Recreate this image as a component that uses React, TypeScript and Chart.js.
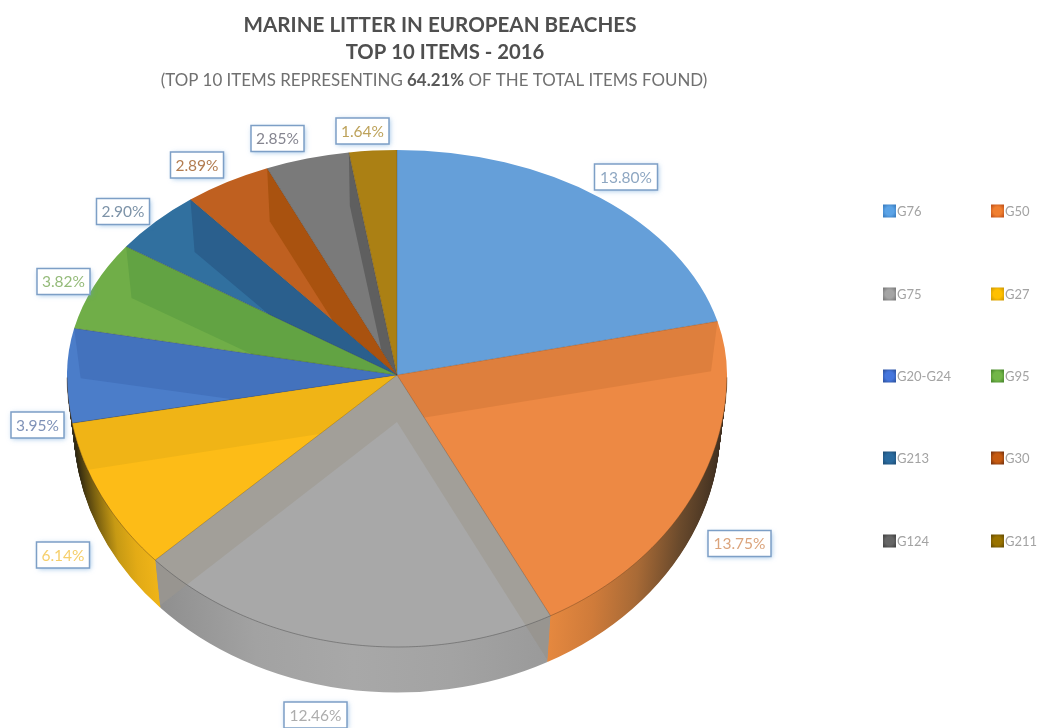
import React, { useEffect, useRef } from "react";
import { Chart, registerables } from "chart.js";

Chart.register(...registerables);

// ---- data ----
const categories = ["G76", "G50", "G75", "G27", "G20-G24", "G95", "G213", "G30", "G124", "G211"];
const percentages = [13.8, 13.75, 12.46, 6.14, 3.95, 3.82, 2.9, 2.89, 2.85, 1.64];
const titleLines = ["MARINE LITTER IN EUROPEAN BEACHES", "TOP 10 ITEMS - 2016"];
const subtitleParts = ["(TOP 10 ITEMS REPRESENTING ", "64.21%", " OF THE TOTAL ITEMS FOUND)"];

// ---- styles ----
const faceColors = ["#659fd9", "#ed8944", "#a8a8a8", "#fdbc17", "#4b7dc9", "#70ae48", "#31709f", "#bf6020", "#7a7a7a", "#ab8014"];
const bandColors = ["#5f9ad4", "#de7f3d", "#a29f99", "#f0b416", "#4372bd", "#62a343", "#2a5f8d", "#a9520f", "#5f5f5f", "#8f6d10"];
const wallStops: string[][] = [
  ["#4d86bd", "#4d86bd"],
  ["#e5883f", "#cf7b3a", "#a86a36", "#6a4a2c", "#3d2e20"],
  ["#8f8f8f", "#a2a2a2", "#a8a8a8", "#a3a3a3", "#9a9a9a"],
  ["#2e2610", "#7c6210", "#c79a14", "#e3ab16", "#efb418"],
  ["#2c2a20", "#3a3520"],
  ["#4a7a30", "#4a7a30"],
  ["#1f4a70", "#1f4a70"],
  ["#7a3c10", "#7a3c10"],
  ["#505050", "#505050"],
  ["#6b500a", "#6b500a"],
];
const labelColors = ["#8ea7c2", "#dba47c", "#adadad", "#f6cf6a", "#7f92b8", "#95bb7a", "#7d93a8", "#b27c50", "#858590", "#bda25a"];
const legendOuter = ["#3c7fc2", "#c4551b", "#7d7d7d", "#d39d06", "#2f55a3", "#4b8a2e", "#1f5079", "#7e360f", "#454545", "#6a5003"];
const legendInner = ["#5ba3e6", "#f07f30", "#a5a5a5", "#ffc000", "#4576dd", "#72b648", "#2a6a9e", "#c55a11", "#666666", "#997300"];
const labelCenters = [
  [626, 177], [739.5, 543.5], [315.5, 715], [63, 555], [37.5, 425], [63.5, 281.5], [123, 211.5], [197, 165], [277.5, 138.5], [362.5, 131],
];
const legendCols = [883, 991];
const legendRows = [211, 294, 376, 458, 541];

// ---- perspective of the pie ----
const W = 1043;
const H = 728;
const APEX_X = 397;
const APEX_Y = 375;
const RX = 330;
const RY_UP = 225;
const RY_DOWN = 272;
const DROP = 51;
const SHRINK = 0.98;
const PERSPECTIVE = 0.0946;
const PERSP_A = 329;
const PERSP_B = 246.3;
const FONT = "Lato, 'Open Sans', sans-serif";

// Where a slice edge lands under the tilted camera: the ray keeps its place on the rim
// of the perspective disc, whose centre does not sit at the apex of the slices.
const projectAngle = (theta: number) => {
  const u = Math.cos(theta);
  const v = Math.sin(theta);
  const den = 1 - PERSPECTIVE * v;
  const x = (PERSP_A * u) / den;
  const y = (PERSP_B * v) / den;
  let t = Math.atan2(y / (y < 0 ? RY_UP : RY_DOWN), x / RX);
  while (t < theta - Math.PI) t += 2 * Math.PI;
  while (t > theta + Math.PI) t -= 2 * Math.PI;
  return t;
};

const rimPoint = (theta: number, dy = 0, s = 1) => {
  const sin = Math.sin(theta);
  return {
    x: APEX_X + RX * s * Math.cos(theta),
    y: APEX_Y + dy + (sin < 0 ? RY_UP : RY_DOWN) * s * sin,
  };
};

const drawHalf = (ctx: any, arc: any, upper: boolean, dy: number, s: number, fill: any) => {
  ctx.save();
  ctx.beginPath();
  if (upper) ctx.rect(0, 0, W, APEX_Y + dy);
  else ctx.rect(0, APEX_Y + dy, W, H);
  ctx.clip();
  ctx.translate(APEX_X, APEX_Y + dy);
  ctx.scale((RX * s) / arc.outerRadius, ((upper ? RY_UP : RY_DOWN) * s) / arc.outerRadius);
  ctx.translate(-arc.x, -arc.y);
  const saved = arc.options;
  arc.options = { ...saved, backgroundColor: fill, borderWidth: 0 };
  arc.draw(ctx);
  arc.options = saved;
  ctx.restore();
};

const sample = (a: number, b: number) => {
  const out: number[] = [];
  const n = Math.max(2, Math.ceil(Math.abs(b - a) / 0.01));
  for (let i = 0; i <= n; i++) out.push(a + ((b - a) * i) / n);
  return out;
};

const sectorPath = (ctx: any, arc: any) => {
  ctx.beginPath();
  ctx.moveTo(APEX_X, APEX_Y);
  sample(arc.startAngle, arc.endAngle).forEach((t) => {
    const p = rimPoint(t);
    ctx.lineTo(p.x, p.y);
  });
  ctx.closePath();
};

const lowerThetas = (arc: any) => sample(arc.startAngle, arc.endAngle).filter((t) => Math.sin(t) > 0);

const wallPath = (ctx: any, thetas: number[]) => {
  ctx.beginPath();
  thetas.forEach((t, i) => {
    const p = rimPoint(t);
    if (i === 0) ctx.moveTo(p.x, p.y);
    else ctx.lineTo(p.x, p.y);
  });
  [...thetas].reverse().forEach((t) => {
    const p = rimPoint(t, DROP, SHRINK);
    ctx.lineTo(p.x, p.y);
  });
  ctx.closePath();
};

const edgeBand = (ctx: any, theta: number) => {
  const a = rimPoint(theta);
  const b = rimPoint(theta, DROP - 2, SHRINK);
  ctx.beginPath();
  ctx.moveTo(APEX_X, APEX_Y);
  ctx.lineTo(a.x, a.y);
  ctx.lineTo(b.x, b.y);
  ctx.lineTo(APEX_X, APEX_Y + DROP - 4);
  ctx.closePath();
};

const pie3dPlugin = {
  id: "pie3d",
  beforeDatasetDraw(chart: any) {
    const ctx = chart.ctx;
    const arcs = chart.getDatasetMeta(0).data;

    // put the library's arc angles through the perspective for this draw
    const original = arcs.map((a: any) => ({ s: a.startAngle, e: a.endAngle, c: a.circumference }));
    arcs.forEach((a: any) => {
      a.startAngle = projectAngle(a.startAngle);
      a.endAngle = projectAngle(a.endAngle);
      a.circumference = a.endAngle - a.startAngle;
    });

    // walls: the library's arcs stacked downwards, deepest layer first
    const wallFills = arcs.map((arc: any, i: number) => {
      const thetas = lowerThetas(arc);
      if (!thetas.length) return null;
      const xs = thetas.map((t) => rimPoint(t).x);
      const toLocal = (x: number) => arc.x + ((x - APEX_X) * arc.outerRadius) / RX;
      const grad = ctx.createLinearGradient(toLocal(Math.min(...xs)), 0, toLocal(Math.max(...xs)), 0);
      wallStops[i].forEach((c, k, all) => grad.addColorStop(k / (all.length - 1), c));
      return grad;
    });
    for (let d = DROP; d >= 1; d--) {
      const s = 1 - ((1 - SHRINK) * d) / DROP;
      arcs.forEach((arc: any, i: number) => {
        if (wallFills[i]) drawHalf(ctx, arc, false, d, s, wallFills[i]);
      });
    }

    // top faces: the library's arcs again
    arcs.forEach((arc: any, i: number) => {
      drawHalf(ctx, arc, true, 0, 1, faceColors[i]);
      drawHalf(ctx, arc, false, 0, 1, faceColors[i]);
    });

    // darker bands swept from each radial edge
    arcs.forEach((arc: any, i: number) => {
      const thetas = lowerThetas(arc);
      [arc.startAngle, arc.endAngle].forEach((edge: number) => {
        ctx.save();
        sectorPath(ctx, arc);
        ctx.clip();
        edgeBand(ctx, edge);
        ctx.fillStyle = bandColors[i];
        ctx.fill();
        ctx.restore();
        if (thetas.length && i === 2) {
          ctx.save();
          wallPath(ctx, thetas);
          ctx.clip();
          edgeBand(ctx, edge);
          ctx.fillStyle = "#989590";
          ctx.fill();
          ctx.restore();
        }
      });
    });

    // hairlines along the slice edges and the front rim
    arcs.forEach((arc: any, i: number) => {
      const a = rimPoint(arc.startAngle);
      ctx.save();
      ctx.strokeStyle = "rgba(60,50,40,0.35)";
      ctx.lineWidth = 0.7;
      ctx.beginPath();
      ctx.moveTo(APEX_X, APEX_Y);
      ctx.lineTo(a.x, a.y);
      ctx.stroke();
      const thetas = lowerThetas(arc);
      if (thetas.length) {
        ctx.strokeStyle = i === 2 ? "rgba(90,90,90,0.7)" : "rgba(90,60,30,0.5)";
        ctx.lineWidth = 0.8;
        ctx.beginPath();
        thetas.forEach((t, k) => {
          const p = rimPoint(t);
          if (k === 0) ctx.moveTo(p.x, p.y);
          else ctx.lineTo(p.x, p.y);
        });
        ctx.stroke();
      }
      ctx.restore();
    });

    arcs.forEach((a: any, i: number) => {
      a.startAngle = original[i].s;
      a.endAngle = original[i].e;
      a.circumference = original[i].c;
    });
    return false;
  },
  afterDraw(chart: any) {
    const ctx = chart.ctx;
    ctx.save();
    ctx.textBaseline = "middle";

    // title
    ctx.fillStyle = "#4f4f4f";
    ctx.textAlign = "center";
    ctx.font = `bold 20.6px ${FONT}`;
    ctx.fillText(titleLines[0], 440, 25);
    ctx.font = `bold 20.3px ${FONT}`;
    ctx.fillText(titleLines[1], 445, 52);

    // subtitle with a bold figure
    ctx.textAlign = "left";
    const regular = `16.9px ${FONT}`;
    const bold = `bold 16.9px ${FONT}`;
    const fonts = [regular, bold, regular];
    const widths = subtitleParts.map((t, i) => {
      ctx.font = fonts[i];
      return ctx.measureText(t).width;
    });
    let x = 434 - widths.reduce((a, b) => a + b, 0) / 2;
    subtitleParts.forEach((t, i) => {
      ctx.font = fonts[i];
      ctx.fillStyle = i === 1 ? "#595959" : "#707070";
      ctx.fillText(t, x, 81);
      x += widths[i];
    });

    // data labels
    ctx.textAlign = "center";
    ctx.font = `15.5px ${FONT}`;
    percentages.forEach((v, i) => {
      const [cx, cy] = labelCenters[i];
      const w = v >= 10 ? 63 : 53;
      const h = 26;
      ctx.save();
      ctx.shadowColor = "rgba(91,155,213,0.6)";
      ctx.shadowBlur = 5;
      ctx.shadowOffsetX = 1;
      ctx.shadowOffsetY = 1;
      ctx.fillStyle = "#ffffff";
      ctx.fillRect(cx - w / 2, cy - h / 2, w, h);
      ctx.restore();
      ctx.strokeStyle = "#7d9fc6";
      ctx.lineWidth = 1.5;
      ctx.strokeRect(cx - w / 2, cy - h / 2, w, h);
      ctx.fillStyle = labelColors[i];
      ctx.fillText(`${v.toFixed(2)}%`, cx, cy + 0.5);
    });

    // legend
    ctx.textAlign = "left";
    ctx.font = `13px ${FONT}`;
    categories.forEach((name, i) => {
      const lx = legendCols[i % 2];
      const ly = legendRows[Math.floor(i / 2)];
      const g = ctx.createRadialGradient(lx + 6.5, ly, 1, lx + 6.5, ly, 8);
      g.addColorStop(0, legendInner[i]);
      g.addColorStop(0.45, legendInner[i]);
      g.addColorStop(1, legendOuter[i]);
      ctx.fillStyle = g;
      ctx.fillRect(lx, ly - 6.5, 13, 13);
      ctx.fillStyle = "#a3a3a3";
      ctx.fillText(name, lx + 14, ly + 0.5);
    });
    ctx.restore();
  },
};

export default function App() {
  const ref = useRef<HTMLCanvasElement | null>(null);
  useEffect(() => {
    document.body.style.margin = "0";
    document.body.style.background = "#ffffff";
    const chart = new Chart(ref.current as HTMLCanvasElement, {
      type: "pie",
      data: {
        labels: categories,
        datasets: [{ data: percentages, backgroundColor: faceColors, borderWidth: 0 }],
      },
      options: {
        responsive: false,
        animation: false,
        plugins: { legend: { display: false }, tooltip: { enabled: false }, title: { display: false } },
      },
      plugins: [pie3dPlugin],
    } as any);
    return () => chart.destroy();
  }, []);
  return (
    <div style={{ position: "absolute", left: 0, top: 0, width: W, height: H, overflow: "hidden" }}>
      <canvas ref={ref} width={W} height={H} style={{ display: "block" }} />
    </div>
  );
}
